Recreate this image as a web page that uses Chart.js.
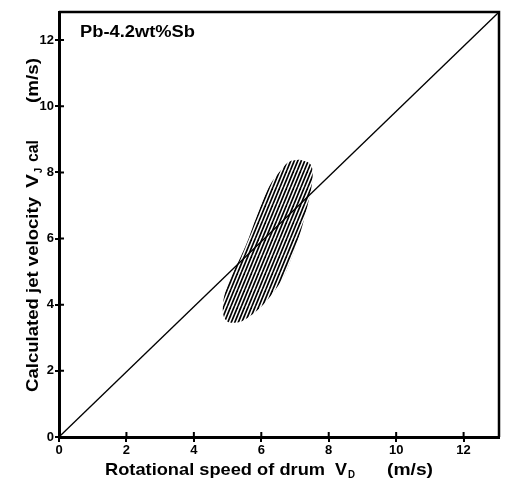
<!DOCTYPE html>
<html>
<head>
<meta charset="utf-8">
<script src="https://cdn.jsdelivr.net/npm/chart.js@4/dist/chart.umd.min.js"></script>
<style>
html,body{margin:0;padding:0;background:#fff;}
#wrap{width:509px;height:482px;position:relative;}
</style>
</head>
<body>
<div id="wrap"><canvas id="c" width="509" height="482"></canvas></div>
<script>
// ---- data ----
const xTicks = [0, 2, 4, 6, 8, 10, 12];
const yTicks = [0, 2, 4, 6, 8, 10, 12];
const xRange = [0, 13.05];
const yRange = [0, 12.85];
// diagonal line V_J cal = V_D
const diagX = [0, 13.05];
const diagY = [0, 12.85];
// boundary of hatched region
const regionX = [7.14, 7.44, 7.52, 7.49, 7.31, 7.10, 6.86, 6.62, 6.12, 5.66, 5.36, 5.01, 4.87, 4.90, 5.11, 5.40, 5.64, 5.86, 6.23, 6.62, 6.84, 7.14];
const regionY = [8.39, 8.27, 8.05, 7.57, 6.75, 5.99, 5.32, 4.77, 4.07, 3.65, 3.48, 3.48, 3.71, 4.26, 4.86, 5.47, 6.05, 6.66, 7.57, 8.12, 8.33, 8.39];
const alloyLabel = 'Pb-4.2wt%Sb';

const FONT = '"Liberation Sans", Arial, Helvetica, sans-serif';

// hatch pattern
function makeHatch() {
  const t = document.createElement('canvas');
  t.width = 7; t.height = 17;
  const g = t.getContext('2d');
  g.strokeStyle = '#000';
  g.lineWidth = 1.7;
  for (const x0 of [-7, -3.5, 0, 3.5, 7]) {
    g.beginPath();
    g.moveTo(x0, 17);
    g.lineTo(x0 + 7, 0);
    g.stroke();
  }
  return document.getElementById('c').getContext('2d').createPattern(t, 'repeat');
}

function drawFit(ctx, text, x, y, width, font) {
  ctx.save();
  ctx.font = font;
  const w = ctx.measureText(text).width;
  ctx.translate(x, y);
  ctx.scale(width / w, 1);
  ctx.fillText(text, 0, 0);
  ctx.restore();
}

const decor = {
  id: 'decor',
  afterDraw(chart) {
    const ctx = chart.ctx;
    const a = chart.chartArea;
    const xs = chart.scales.x, ys = chart.scales.y;
    ctx.save();
    ctx.strokeStyle = '#000';
    // top and right frame
    ctx.lineWidth = 2.5;
    ctx.beginPath();
    ctx.moveTo(a.left, a.top);
    ctx.lineTo(a.right, a.top);
    ctx.lineTo(a.right, a.bottom);
    ctx.stroke();
    // inner tick marks
    ctx.lineWidth = 2;
    ctx.beginPath();
    for (const v of xTicks) {
      const px = xs.getPixelForValue(v);
      ctx.moveTo(px, a.bottom);
      ctx.lineTo(px, a.bottom - 5);
    }
    for (const v of yTicks) {
      const py = ys.getPixelForValue(v);
      ctx.moveTo(a.left, py);
      ctx.lineTo(a.left + 5, py);
    }
    ctx.stroke();

    ctx.fillStyle = '#000';
    ctx.textBaseline = 'alphabetic';
    ctx.textAlign = 'left';
    // alloy label
    drawFit(ctx, alloyLabel, 80, 37, 115, 'bold 16px ' + FONT);
    // x title
    drawFit(ctx, 'Rotational speed of drum', 105, 475, 220, 'bold 17px ' + FONT);
    drawFit(ctx, 'V', 335, 475, 12, 'bold 17px ' + FONT);
    drawFit(ctx, 'D', 348, 478, 7, 'bold 11px ' + FONT);
    drawFit(ctx, '(m/s)', 387, 475, 46, 'bold 17px ' + FONT);
    // y title (rotated)
    ctx.save();
    ctx.translate(38, 392);
    ctx.rotate(-Math.PI / 2);
    drawFit(ctx, 'Calculated jet velocity', 0, 0, 195, 'bold 17px ' + FONT);
    drawFit(ctx, 'V', 204, 0, 14, 'bold 17px ' + FONT);
    drawFit(ctx, 'J', 219, 4, 5, 'bold 11px ' + FONT);
    drawFit(ctx, 'cal', 230, 0, 22, 'bold 17px ' + FONT);
    drawFit(ctx, '(m/s)', 289, 0, 45, 'bold 17px ' + FONT);
    ctx.restore();
    ctx.restore();
  }
};

const tickFont = {family: FONT, size: 13, weight: 'bold'};

new Chart(document.getElementById('c'), {
  type: 'scatter',
  data: {
    datasets: [
      {
        data: diagX.map((x, i) => ({x, y: diagY[i]})),
        showLine: true,
        borderColor: '#000',
        borderWidth: 1.3,
        pointRadius: 0,
        fill: false
      },
      {
        data: regionX.map((x, i) => ({x, y: regionY[i]})),
        showLine: true,
        borderWidth: 0,
        borderColor: 'rgba(0,0,0,0)',
        backgroundColor: makeHatch(),
        pointRadius: 0,
        tension: 0.35,
        fill: 'shape'
      }
    ]
  },
  options: {
    responsive: false,
    animation: false,
    layout: {padding: {left: 0, right: 10, top: 12, bottom: 0}},
    plugins: {legend: {display: false}, tooltip: {enabled: false}},
    scales: {
      x: {
        type: 'linear',
        min: xRange[0], max: xRange[1],
        afterBuildTicks: s => { s.ticks = xTicks.map(v => ({value: v})); },
        afterFit: s => { s.height = 45; },
        ticks: {color: '#000', font: tickFont, padding: 1, maxRotation: 0, includeBounds: false},
        grid: {drawOnChartArea: false, drawTicks: true, tickLength: 5, color: '#000', lineWidth: 2},
        border: {display: true, color: '#000', width: 3}
      },
      y: {
        type: 'linear',
        min: yRange[0], max: yRange[1],
        afterBuildTicks: s => { s.ticks = yTicks.map(v => ({value: v})); },
        afterFit: s => { s.width = 59; },
        ticks: {color: '#000', font: tickFont, padding: 1, includeBounds: false},
        grid: {drawOnChartArea: false, drawTicks: true, tickLength: 4, color: '#000', lineWidth: 2},
        border: {display: true, color: '#000', width: 3}
      }
    }
  },
  plugins: [decor]
});
</script>
</body>
</html>
